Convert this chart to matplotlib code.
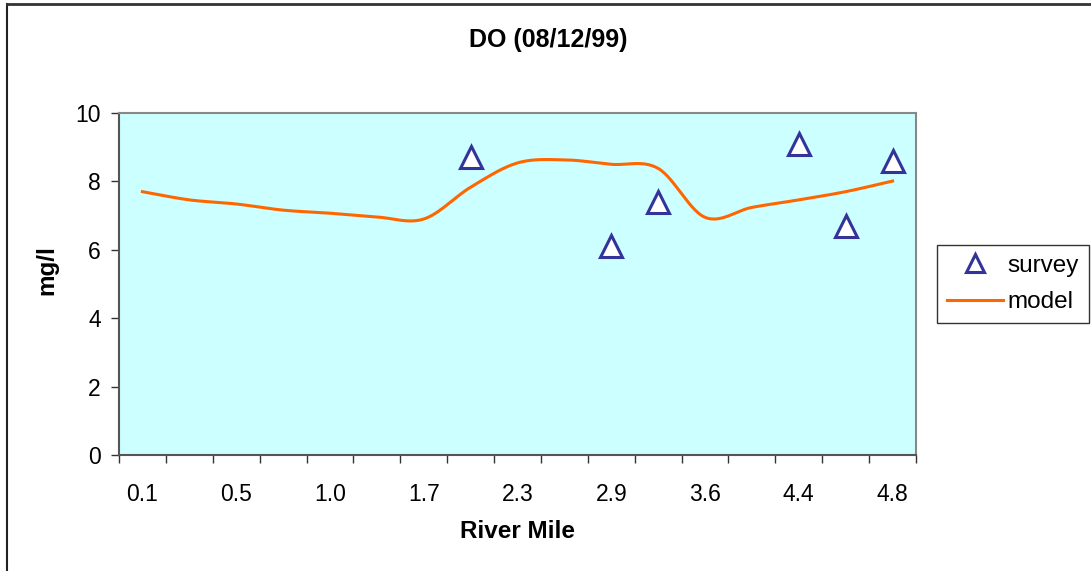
import numpy as np
import matplotlib.pyplot as plt
from matplotlib.lines import Line2D

plt.rcParams['font.family'] = ['Liberation Sans', 'DejaVu Sans']

# river mile categories (only every other one is labelled on the axis)
river_mile = ['0.1', '0.3', '0.5', '0.7', '1.0', '1.3', '1.7', '2.0', '2.3',
              '2.6', '2.9', '3.2', '3.6', '4.0', '4.4', '4.6', '4.8']
model = [7.70, 7.46, 7.34, 7.16, 7.07, 6.96, 6.90, 7.83, 8.54,
         8.63, 8.50, 8.38, 6.95, 7.24, 7.46, 7.70, 8.01]
survey_idx = [7, 10, 11, 14, 15, 16]
survey = [8.7, 6.1, 7.4, 9.1, 6.7, 8.6]


def smooth(y, n=30):
    # catmull-rom style smoothing, like excel's smoothed line
    y = np.asarray(y, dtype=float)
    x = np.arange(len(y), dtype=float)
    px = np.concatenate([[x[0]], x, [x[-1]]])
    py = np.concatenate([[y[0]], y, [y[-1]]])
    xs, ys = [], []
    t = np.linspace(0, 1, n)
    for i in range(1, len(px) - 2):
        p0, p1, p2, p3 = (np.array([px[j], py[j]]) for j in range(i - 1, i + 3))
        c1 = p1 + (p2 - p0) / 6
        c2 = p2 - (p3 - p1) / 6
        b = ((1 - t) ** 3)[:, None] * p1 + (3 * (1 - t) ** 2 * t)[:, None] * c1 \
            + (3 * (1 - t) * t ** 2)[:, None] * c2 + (t ** 3)[:, None] * p2
        xs.append(b[:, 0])
        ys.append(b[:, 1])
    return np.concatenate(xs), np.concatenate(ys)


fig = plt.figure(figsize=(10.91, 5.71), dpi=100)
ax = fig.add_axes([119 / 1091, 1 - 455 / 571, 797 / 1091, 342 / 571])
ax.set_facecolor('#CCFFFF')

sx, sy = smooth(model)
ax.plot(sx, sy, color='#FF6600', lw=2.2, zorder=2)
ax.plot(survey_idx, survey, ls='none', marker='^', ms=16, mfc='white',
        mec='#333399', mew=2.2, zorder=3)

n = len(river_mile)
ax.set_xlim(-0.5, n - 0.5)
ax.set_ylim(0, 10)
ax.set_yticks([0, 2, 4, 6, 8, 10])
ax.set_xticks(np.arange(n + 1) - 0.5)
ax.set_xticklabels([])
ax.set_xticks(np.arange(0, n, 2), [river_mile[i] for i in range(0, n, 2)], minor=True)
ax.tick_params(axis='x', which='major', length=6, width=1, color='#333333')
ax.tick_params(axis='x', which='minor', length=0, pad=20, labelsize=16.5)
ax.tick_params(axis='y', length=6, width=1, color='#333333', pad=7, labelsize=16.5)

for s in ['left', 'bottom']:
    ax.spines[s].set_color('#555555')
    ax.spines[s].set_linewidth(1.5)
for s in ['top', 'right']:
    ax.spines[s].set_color('#888888')
    ax.spines[s].set_linewidth(1.5)

fig.text(548 / 1091, 1 - 40 / 571, 'DO (08/12/99)', ha='center', va='center',
         fontsize=18, fontweight='bold')
fig.text(517 / 1091, 1 - 531 / 571, 'River Mile', ha='center', va='center',
         fontsize=17.5, fontweight='bold')
fig.text(47 / 1091, 1 - 270 / 571, 'mg/l', ha='center', va='center',
         rotation=90, fontsize=17.5, fontweight='bold')

handles = [Line2D([], [], ls='none', marker='^', ms=13, mfc='white', mec='#333399', mew=2.2),
           Line2D([], [], color='#FF6600', lw=2.2)]
leg = fig.legend(handles, ['survey', 'model'], loc='upper left',
                 bbox_to_anchor=(937 / 1091, 1 - 245 / 571), fontsize=17.5,
                 frameon=True, fancybox=False, shadow=False, handlelength=2.3,
                 handletextpad=0.2, borderpad=0.4, labelspacing=0.6,
                 borderaxespad=0)
leg.get_frame().set_edgecolor('black')
leg.get_frame().set_linewidth(1)

# chart border (left and top edges visible)
fig.add_artist(Line2D([6.5 / 1091, 6.5 / 1091], [0, 1 - 4 / 571], color='#222222', lw=1.5))
fig.add_artist(Line2D([6.5 / 1091, 1], [1 - 4 / 571, 1 - 4 / 571], color='#333333', lw=2))

fig.savefig('out.png', dpi=100)
